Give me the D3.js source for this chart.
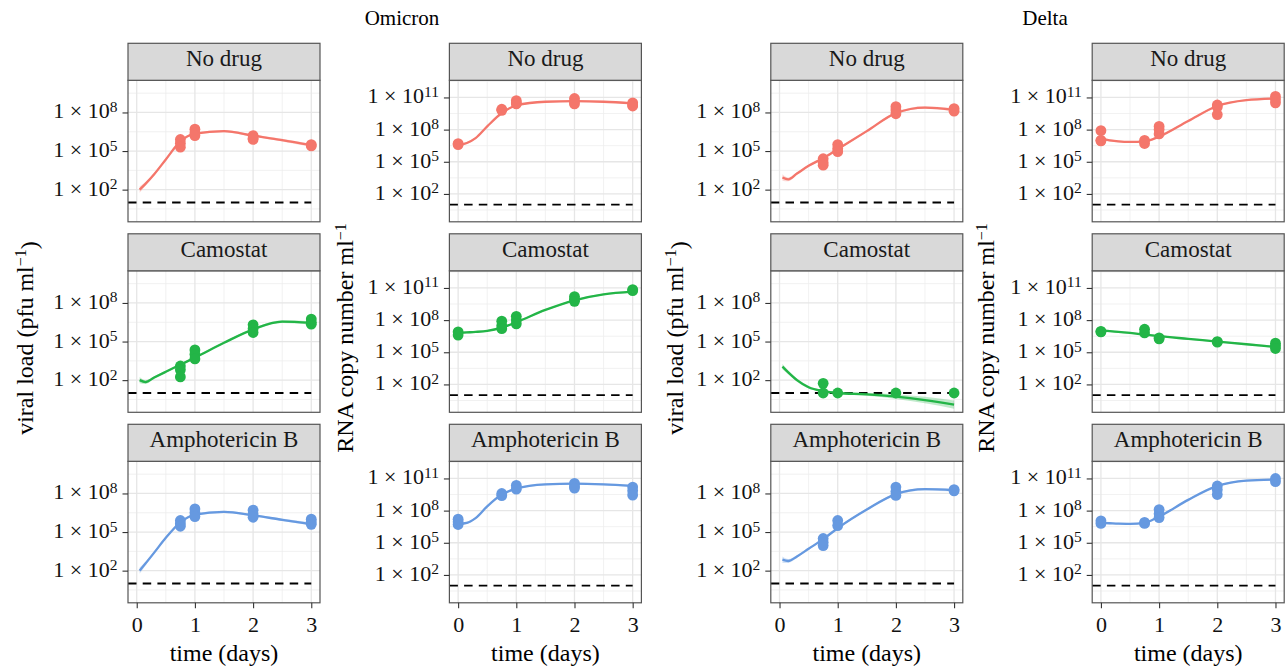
<!DOCTYPE html>
<html>
<head>
<meta charset="utf-8">
<script src="https://cdn.jsdelivr.net/npm/d3@7"></script>
<style>
	body { margin: 0; background: #fff; }
	svg { display: block; font-family: "Liberation Serif", "Times New Roman", serif; }
	.grid-major { stroke: #e6e6e6; stroke-width: 1.3; }
	.grid-minor { stroke: #eeeeee; stroke-width: 0.8; }
	.frame { fill: none; stroke: #555; stroke-width: 1.2; }
	.strip { fill: #d9d9d9; stroke: #555; stroke-width: 1.2; }
	.axis path { display: none; }
	.axis line { stroke: #333; stroke-width: 1.1; }
	.axis text { font-family: "Liberation Serif", serif; font-size: 22px; fill: #111; }
</style>
</head>
<body>
<svg width="1288" height="671"></svg>
<script>
const variants = ["Omicron", "Delta"];
const treatments = ["No drug", "Camostat", "Amphotericin B"];
const treatmentColours = ["#f4766b", "#23b547", "#6699e0"];

// sampling times (days)
const viralTimes = [0.75, 1, 2, 3];
const rnaTimes = [0, 0.75, 1, 2, 3];
const viralFitTimes = [0.05, 0.15, 0.3, 0.5, 0.75, 1, 1.5, 2, 2.5, 3];
const rnaFitTimes = [0, 0.15, 0.3, 0.5, 0.75, 1, 1.5, 2, 2.5, 3];
const xTicks = [0, 1, 2, 3];
const xMinor = [0.5, 1.5, 2.5];

// axis breaks as log10 exponents
const viralTicks = [2, 5, 8];
const viralMinor = [0.5, 3.5, 6.5, 9.5];
const rnaTicks = [2, 5, 8, 11];
const rnaMinor = [0.5, 3.5, 6.5, 9.5, 12.5];
const detectionLimit = 1;

// observations, log10, one list of replicates per sampling time
const omicronNoDrugViral = [[5.9, 5.6, 5.3], [6.7, 6.4, 6.2], [6.2, 6.0, 5.9], [5.5, 5.4]];
const omicronCamostatViral = [[3.1, 2.8, 2.25], [4.35, 4.0, 3.65], [6.3, 6.0, 5.7], [6.75, 6.5, 6.35]];
const omicronAmphoViral = [[5.9, 5.65, 5.45], [6.8, 6.5, 6.2], [6.7, 6.4, 6.15], [6.0, 5.8, 5.6]];
const omicronNoDrugRna = [[6.7, 6.6], [9.9, 9.8], [10.7, 10.5, 10.4], [10.9, 10.6, 10.4], [10.5, 10.3, 10.2]];
const omicronCamostatRna = [[6.9, 6.6], [7.9, 7.5, 7.2], [8.35, 8.0, 7.65], [10.2, 9.95, 9.75], [10.85, 10.75]];
const omicronAmphoRna = [[7.2, 6.95, 6.7], [9.6, 9.4], [10.35, 10.0], [10.55, 10.3, 10.1], [10.2, 9.85, 9.45]];
const deltaNoDrugViral = [[4.4, 4.1, 3.9], [5.5, 5.2, 4.95], [8.45, 8.2, 7.9], [8.3, 8.1]];
const deltaCamostatViral = [[1.75, 1.0], [1.0], [1.0], [1.0]];
const deltaAmphoViral = [[4.5, 4.2, 3.95], [5.9, 5.5], [8.5, 8.15, 7.85], [8.3, 8.2]];
const deltaNoDrugRna = [[7.9, 7.0, 6.95], [7.0, 6.7], [8.3, 8.0, 7.6], [10.3, 10.1, 9.4], [11.1, 10.8, 10.5]];
const deltaCamostatRna = [[6.95, 6.9], [7.15, 6.8], [6.35, 6.25], [6.0, 5.95], [5.85, 5.6, 5.35]];
const deltaAmphoRna = [[7.05, 6.8], [6.9, 6.8], [8.1, 7.7, 7.35], [10.3, 9.95, 9.5], [11.0, 10.7]];

// fitted curves, log10, at the fit times
const omicronNoDrugViralFit = [2.0, 2.45, 3.2, 4.35, 5.75, 6.35, 6.55, 6.2, 5.85, 5.45];
const omicronCamostatViralFit = [2.0, 1.85, 2.2, 2.65, 3.2, 3.75, 4.9, 5.95, 6.55, 6.45];
const omicronAmphoViralFit = [2.0, 2.55, 3.4, 4.55, 5.75, 6.35, 6.57, 6.3, 5.95, 5.62];
const omicronNoDrugRnaFit = [6.55, 6.75, 7.2, 8.3, 9.55, 10.25, 10.6, 10.65, 10.6, 10.45];
const omicronCamostatRnaFit = [6.8, 6.85, 6.9, 7.0, 7.3, 7.8, 8.95, 9.85, 10.4, 10.65];
const omicronAmphoRnaFit = [6.75, 6.85, 7.3, 8.4, 9.5, 10.05, 10.45, 10.52, 10.45, 10.3];
const deltaNoDrugViralFit = [2.95, 2.8, 3.25, 3.85, 4.45, 5.15, 6.55, 7.95, 8.38, 8.2];
const deltaCamostatViralFit = [3.05, 2.6, 2.0, 1.45, 1.15, 1.0, 0.9, 0.72, 0.45, 0.1];
const deltaAmphoViralFit = [2.85, 2.75, 3.1, 3.7, 4.45, 5.3, 6.75, 7.95, 8.33, 8.25];
const deltaNoDrugRnaFit = [7.15, 7.0, 6.9, 6.85, 6.9, 7.35, 8.8, 10.2, 10.75, 10.9];
const deltaCamostatRnaFit = [7.05, 6.98, 6.9, 6.8, 6.65, 6.5, 6.25, 6.0, 5.75, 5.5];
const deltaAmphoRnaFit = [6.86, 6.82, 6.78, 6.77, 6.86, 7.45, 9.0, 10.3, 10.8, 10.9];

// half width of the confidence band, log10
const viralBand = [0.25, 0.15, 0.1, 0.08, 0.08, 0.08, 0.08, 0.08, 0.1, 0.12];
const rnaBand = [0.12, 0.1, 0.08, 0.08, 0.08, 0.08, 0.08, 0.08, 0.08, 0.1];
const deltaCamostatViralBand = [0.2, 0.15, 0.12, 0.1, 0.1, 0.1, 0.12, 0.18, 0.25, 0.32];

const columns = [
	{ variant: 0, measure: "viral",
	  obs: [omicronNoDrugViral, omicronCamostatViral, omicronAmphoViral],
	  fits: [omicronNoDrugViralFit, omicronCamostatViralFit, omicronAmphoViralFit],
	  bands: [viralBand, viralBand, viralBand] },
	{ variant: 0, measure: "rna",
	  obs: [omicronNoDrugRna, omicronCamostatRna, omicronAmphoRna],
	  fits: [omicronNoDrugRnaFit, omicronCamostatRnaFit, omicronAmphoRnaFit],
	  bands: [rnaBand, rnaBand, rnaBand] },
	{ variant: 1, measure: "viral",
	  obs: [deltaNoDrugViral, deltaCamostatViral, deltaAmphoViral],
	  fits: [deltaNoDrugViralFit, deltaCamostatViralFit, deltaAmphoViralFit],
	  bands: [viralBand, deltaCamostatViralBand, viralBand] },
	{ variant: 1, measure: "rna",
	  obs: [deltaNoDrugRna, deltaCamostatRna, deltaAmphoRna],
	  fits: [deltaNoDrugRnaFit, deltaCamostatRnaFit, deltaAmphoRnaFit],
	  bands: [rnaBand, rnaBand, rnaBand] }
];

const measureSpec = {
	viral: { domain: [-0.5, 10.5], ticks: viralTicks, minor: viralMinor, times: viralTimes, fitTimes: viralFitTimes,
	         label: ["viral load (pfu ml", "\u22121", ")"] },
	rna:   { domain: [-0.6, 12.6], ticks: rnaTicks, minor: rnaMinor, times: rnaTimes, fitTimes: rnaFitTimes,
	         label: ["RNA copy number ml", "\u22121", ""] }
};

// layout
const colLeft = [128, 449.4, 770.8, 1092.2];
const panelW = 192;
const stripTop = [43.3, 233.8, 424.3];
const stripH = 37;
const plotH = 141.5;
const yLabelX = [33, 353, 683, 994];
const yLabelY = 338;
const titleX = [402, 1045];

const svg = d3.select("svg");

svg.selectAll("text.title")
	.data(variants)
	.enter()
	.append("text")
	.attr("class", "title")
	.attr("x", (d, i) => titleX[i])
	.attr("y", 25)
	.attr("text-anchor", "middle")
	.attr("font-size", 21)
	.text(d => d);

columns.forEach((col, c) => {
	const spec = measureSpec[col.measure];
	const x = d3.scaleLinear().domain([-0.15, 3.15]).range([colLeft[c], colLeft[c] + panelW]);

	treatments.forEach((name, r) => {
		const top = stripTop[r] + stripH;
		const y = d3.scaleLog()
					.domain(spec.domain.map(e => Math.pow(10, e)))
					.range([top + plotH, top]);
		renderPanel(svg, x, y, spec, col, r, top);
	});

	// y title
	const lab = svg.append("text")
				   .attr("transform", `translate(${yLabelX[c]}, ${yLabelY}) rotate(-90)`)
				   .attr("text-anchor", "middle")
				   .attr("font-size", 24);
	lab.append("tspan").text(spec.label[0]);
	lab.append("tspan").attr("dy", "-0.45em").attr("font-size", 16).text(spec.label[1]);
	lab.append("tspan").attr("dy", "0.45em").text(spec.label[2]);

	// x title
	svg.append("text")
	   .attr("x", colLeft[c] + panelW / 2)
	   .attr("y", 661)
	   .attr("text-anchor", "middle")
	   .attr("font-size", 24)
	   .text("time (days)");
});

function renderPanel(svg, x, y, spec, col, r, top) {
	const g = svg.append("g");
	const left = x.range()[0];
	const colour = treatmentColours[r];
	const ey = e => y(Math.pow(10, e));

	// grid
	g.selectAll(".gmy").data(spec.minor).enter().append("line").attr("class", "grid-minor")
	 .attr("x1", left).attr("x2", left + panelW).attr("y1", ey).attr("y2", ey);
	g.selectAll(".gmx").data(xMinor).enter().append("line").attr("class", "grid-minor")
	 .attr("x1", x).attr("x2", x).attr("y1", top).attr("y2", top + plotH);
	g.selectAll(".gMy").data(spec.ticks).enter().append("line").attr("class", "grid-major")
	 .attr("x1", left).attr("x2", left + panelW).attr("y1", ey).attr("y2", ey);
	g.selectAll(".gMx").data(xTicks).enter().append("line").attr("class", "grid-major")
	 .attr("x1", x).attr("x2", x).attr("y1", top).attr("y2", top + plotH);

	// detection limit
	g.append("line")
	 .attr("x1", x(-0.15)).attr("x2", x(3))
	 .attr("y1", ey(detectionLimit)).attr("y2", ey(detectionLimit))
	 .attr("stroke", "#000").attr("stroke-width", 1.8)
	 .attr("stroke-dasharray", "8.5,6.2");

	// fit + band
	const fit = spec.fitTimes.map((t, i) => ({ t: t, v: col.fits[r][i], b: col.bands[r][i] }));
	const area = d3.area()
				   .x(d => x(d.t))
				   .y0(d => ey(d.v - d.b))
				   .y1(d => ey(d.v + d.b))
				   .curve(d3.curveMonotoneX);
	const line = d3.line()
				   .x(d => x(d.t))
				   .y(d => ey(d.v))
				   .curve(d3.curveMonotoneX);
	g.append("path").attr("d", area(fit)).attr("fill", colour).attr("fill-opacity", 0.28);
	g.append("path").attr("d", line(fit)).attr("fill", "none").attr("stroke", colour).attr("stroke-width", 2.3);

	// observations
	const pts = [];
	col.obs[r].forEach((vals, i) => vals.forEach(v => pts.push({ t: spec.times[i], v: v })));
	g.selectAll("circle")
	 .data(pts)
	 .enter()
	 .append("circle")
	 .attr("cx", d => x(d.t))
	 .attr("cy", d => ey(d.v))
	 .attr("r", 5.4)
	 .attr("fill", colour);

	// frame and strip
	g.append("rect").attr("class", "frame")
	 .attr("x", left).attr("y", top).attr("width", panelW).attr("height", plotH);
	g.append("rect").attr("class", "strip")
	 .attr("x", left).attr("y", top - stripH).attr("width", panelW).attr("height", stripH);
	g.append("text")
	 .attr("x", left + panelW / 2)
	 .attr("y", top - stripH + 23)
	 .attr("text-anchor", "middle")
	 .attr("font-size", 23)
	 .attr("fill", "#1a1a1a")
	 .text(treatments[r]);

	// y axis
	const yAxis = d3.axisLeft(y)
					.tickValues(spec.ticks.map(e => Math.pow(10, e)))
					.tickSize(5.5)
					.tickPadding(5)
					.tickFormat(() => "");
	const yg = g.append("g")
				.attr("class", "axis")
				.attr("transform", `translate(${left}, 0)`)
				.call(yAxis);
	yg.selectAll(".tick text")
	  .attr("dy", "0.25em")
	  .each(function(d) {
		const t = d3.select(this);
		t.append("tspan").text("1 \u00d7 10");
		t.append("tspan").attr("dy", "-0.42em").attr("font-size", "15.5px").text(Math.round(Math.log10(d)));
	  });

	// x axis on bottom row only
	if (r === treatments.length - 1) {
		const xAxis = d3.axisBottom(x).tickValues(xTicks).tickSize(5.5).tickPadding(8).tickFormat(d3.format("d"));
		g.append("g")
		 .attr("class", "axis")
		 .attr("transform", `translate(0, ${top + plotH})`)
		 .call(xAxis);
	}
}
</script>
</body>
</html>
